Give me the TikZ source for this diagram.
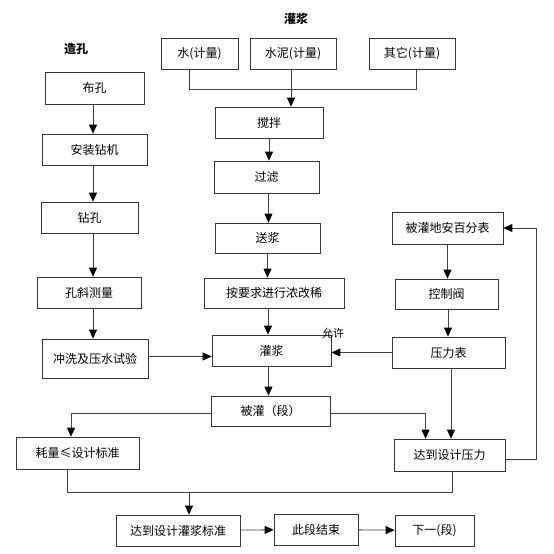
\documentclass[tikz,border=0pt]{standalone}
\usepackage{fontspec}
\setmainfont{Noto Sans CJK SC}
\usetikzlibrary{arrows.meta}
\usetikzlibrary{calc}

\tikzset{
  box/.style={draw=black!80, line width=0.7pt, inner sep=0pt, minimum height=31pt, font=\fontsize{12}{14}\selectfont},
  link/.style={draw=black!75, line width=0.8pt},
  arr/.style={link, -{Triangle[length=9pt,width=8pt,color=black]}},
  ttl/.style={font=\fontsize{12}{14}\selectfont\bfseries}
}

\begin{document}
\begin{tikzpicture}[x=1pt, y=-1pt]
\useasboundingbox (0,0) rectangle (554,554);
\node[ttl] (tzk) at (76,49) {造孔};
\node[ttl] (tgj) at (296,19) {灌浆};
% grouting column
\node[box, minimum width=77pt] (water) at (199.5,53.5) {水(计量)};
\node[box, minimum width=86pt] (cement) at (293,53.5) {水泥(计量)};
\node[box, minimum width=86pt] (other) at (412,53.5) {其它(计量)};
\node[box, minimum width=108pt] (mix) at (269,122.5) {搅拌};
\node[box, minimum width=105pt, minimum height=32pt] (filter) at (266.5,177) {过滤};
\node[box, minimum width=105pt, minimum height=30pt] (send) at (267.5,238) {送浆};
\node[box, minimum width=140pt, minimum height=30pt] (adjust) at (274,293) {按要求进行浓改稀};
\node[box, minimum width=119pt] (grout) at (271.5,350.5) {灌浆};
\node[box, minimum width=119pt, minimum height=30pt] (section) at (270.5,411) {被灌（段）};
\node[font=\fontsize{11}{12}\selectfont] (allow) at (333,333) {允许};
% drilling column
\node[box, minimum width=99pt, minimum height=32pt] (layout) at (94.5,88) {布孔};
\node[box, minimum width=105pt] (rig) at (94.5,149.5) {安装钻机};
\node[box, minimum width=97pt] (drill) at (89.5,217.5) {钻孔};
\node[box, minimum width=104pt] (incline) at (89,292.5) {孔斜测量};
\node[box, minimum width=106pt, minimum height=39pt] (flush) at (95,358.5) {冲洗及压水试验};
% pressure column
\node[box, minimum width=111pt, minimum height=32pt] (gauge) at (447.5,228) {被灌地安百分表};
\node[box, minimum width=103pt, minimum height=30pt] (valve) at (446.5,294) {控制阀};
\node[box, minimum width=113pt] (press) at (448.5,352.5) {压力表};
% results
\node[box, minimum width=123pt, minimum height=32pt] (take) at (77.5,453) {耗量≤设计标准};
\node[box, minimum width=111pt, minimum height=32pt] (reach) at (449.5,455) {达到设计压力};
\node[box, minimum width=124pt] (std) at (178,530.5) {达到设计灌浆标准};
\node[box, minimum width=84pt] (end) at (316,529.5) {此段结束};
\node[box, minimum width=79pt] (next) at (434.5,530.5) {下一(段)};

\draw[link] ([xshift=-10pt]water.south) -- ++(0,20) -| ([xshift=4pt]other.south);
\draw[arr] ([xshift=-2pt]cement.south) -- ([xshift=-2pt]cement.south |- mix.north);
\draw[arr] (mix.south) -- (mix.south |- filter.north);
\draw[arr] ([xshift=2pt]filter.south) -- ([xshift=2pt]filter.south |- send.north);
\draw[arr] (send.south) -- (send.south |- adjust.north);
\draw[arr] ([xshift=-6pt]adjust.south) -- ([xshift=-6pt]adjust.south |- grout.north);
\draw[arr] ([xshift=-3pt]grout.south) -- ([xshift=-3pt]grout.south |- section.north);

\draw[arr] ([xshift=-1.5pt]layout.south) -- ([xshift=-1.5pt]layout.south |- rig.north);
\draw[arr] ([xshift=-1.5pt]rig.south) -- ([xshift=-1.5pt]rig.south |- drill.north);
\draw[arr] ([xshift=3.5pt]drill.south) -- ([xshift=3.5pt]drill.south |- incline.north);
\draw[arr] ([xshift=4pt]incline.south) -- ([xshift=4pt]incline.south |- flush.north);
\draw[arr] ([yshift=2pt]flush.east) -- ([yshift=2pt]flush.east -| grout.west);

\draw[arr] (gauge.south) -- (gauge.south |- valve.north);
\draw[arr] ([xshift=1.5pt]valve.south) -- ([xshift=1.5pt]valve.south |- press.north);
\draw[arr] (press.west) -- (press.west -| grout.east);
\draw[arr] ([xshift=2.5pt]press.south) -- ([xshift=2.5pt]press.south |- reach.north);
\draw[arr] ([yshift=-4pt]reach.east) -- ++(31,0) |- (gauge.east);

\draw[arr] ([yshift=-2pt]section.west) -| ([xshift=-6.5pt]take.north);
\draw[arr] ([yshift=-2pt]section.east) -| ([xshift=-24pt]reach.north);
\draw[link] ([xshift=-10.5pt]take.south) -- ++(0,23) coordinate (merge) -| ([xshift=2.5pt]reach.south);
\coordinate (drop) at (189,492);
\draw[arr] (drop) -- (drop |- std.north);
\draw[arr] (std) -- (end);
\draw[arr] (end) -- (next);
\end{tikzpicture}
\end{document}
